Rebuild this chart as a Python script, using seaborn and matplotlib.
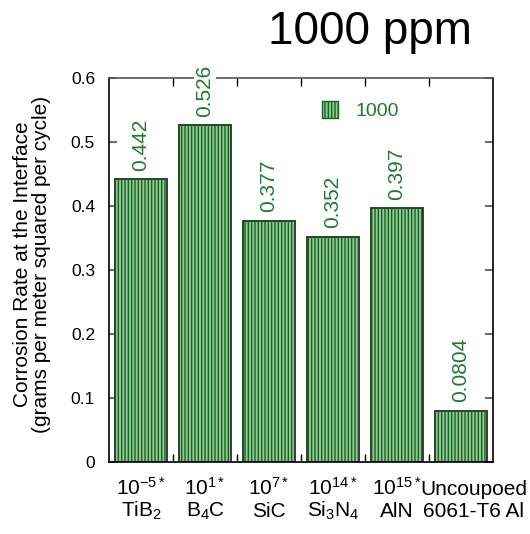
import numpy as np
import pandas as pd
import seaborn as sns
import matplotlib.pyplot as plt
from matplotlib.patches import Patch
from matplotlib.ticker import FuncFormatter

# data
materials = ['TiB$_2$', 'B$_4$C', 'SiC', 'Si$_3$N$_4$', 'AlN', '6061-T6 Al']
potentials = ['10$^{-5*}$', '10$^{1*}$', '10$^{7*}$', '10$^{14*}$', '10$^{15*}$', 'Uncoupoed']
rates = [0.442, 0.526, 0.377, 0.352, 0.397, 0.0804]
rate_labels = ['0.442', '0.526', '0.377', '0.352', '0.397', '0.0804']

sns.set_theme(style='ticks')
plt.rcParams['font.family'] = ['Liberation Sans', 'DejaVu Sans']
plt.rcParams['mathtext.fontset'] = 'custom'
plt.rcParams['mathtext.rm'] = 'Liberation Sans'
plt.rcParams['mathtext.it'] = 'Liberation Sans'
plt.rcParams['mathtext.default'] = 'regular'
plt.rcParams['hatch.linewidth'] = 1.0
plt.rcParams['text.color'] = 'black'
plt.rcParams['xtick.color'] = 'black'
plt.rcParams['ytick.color'] = 'black'
plt.rcParams['xtick.labelcolor'] = 'black'
plt.rcParams['ytick.labelcolor'] = 'black'

dark_green = '#0b6a1c'
text_green = '#1e7a2e'
face = '#98c498'

df = pd.DataFrame({'cat': materials, 'rate': rates})

fig = plt.figure(figsize=(5.3, 5.34), dpi=100)
ax = fig.add_axes([109/530, 1-462/534, 384/530, 384/534])

sns.barplot(data=df, x='cat', y='rate', color=face, width=0.8, ax=ax,
            edgecolor=dark_green, linewidth=1.2, saturation=1)
for p in ax.patches:
    p.set_hatch('|||||')
    p.set_edgecolor(dark_green)
# outline on top
for p in list(ax.patches):
    ax.add_patch(plt.Rectangle(p.get_xy(), p.get_width(), p.get_height(),
                               fill=False, edgecolor='#2e3f30', linewidth=1.2))

ax.bar_label(ax.containers[0], labels=rate_labels, rotation=90, padding=6,
             color=text_green, fontsize=15,
             bbox=dict(facecolor='white', edgecolor='none', pad=1))

ax.set_xlim(-0.5, 5.5)
ax.set_ylim(0, 0.6)
ax.set_yticks(np.arange(0, 0.61, 0.1))
ax.yaxis.set_major_formatter(FuncFormatter(lambda v, _: '0' if v == 0 else f'{v:.1f}'))
ax.tick_params(axis='y', direction='in', left=True, right=True, length=6,
               labelsize=12.5, color='#555555', pad=10)
ax.set_xticks(range(len(rates)))
ax.set_xticklabels([])
ax.set_xticks(np.arange(0.5, 5, 1), minor=True)
ax.tick_params(axis='x', which='major', length=0)
ax.tick_params(axis='x', which='minor', direction='in', top=True, bottom=True,
               length=6, color='black')
ax.set_xlabel('')
ax.set_ylabel('')
for s in ax.spines.values():
    s.set_color('black')
    s.set_linewidth(1.2)
    s.set_visible(True)
ax.spines['top'].set_color('#555555')

# two-row category labels
xt = ax.get_xaxis_transform()
for i, (pot, mat) in enumerate(zip(potentials, materials)):
    xi = i + 0.2 if i == len(materials) - 1 else i
    ax.text(xi, -33/384, pot, transform=xt, ha='center', va='baseline', fontsize=15)
    ax.text(xi, -55/384, mat, transform=xt, ha='center', va='baseline', fontsize=15)

fig.text(32/530, 1-264/534,
         'Corrosion Rate at the Interface\n(grams per meter squared per cycle)',
         rotation=90, ha='center', va='center', multialignment='center',
         fontsize=15, linespacing=1.05)
fig.text(370/530, 1-44/534, '1000 ppm', ha='center', va='baseline', fontsize=33)

leg_handle = Patch(facecolor=face, edgecolor=dark_green, hatch='|||||')
leg = ax.legend([leg_handle], ['1000'], loc='upper left',
                bbox_to_anchor=(0.555, 0.94), frameon=False, handlelength=0.8,
                handleheight=1.0, borderpad=0, borderaxespad=0, fontsize=14,
                handletextpad=0.9)
for t in leg.get_texts():
    t.set_color(text_green)

fig.savefig('out.png', dpi=100)
